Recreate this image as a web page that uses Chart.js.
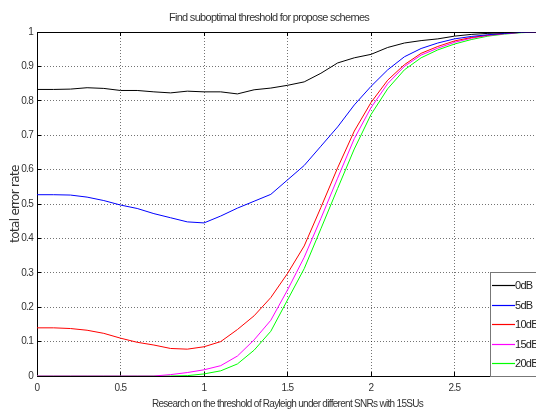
<!DOCTYPE html>
<html>
<head>
<meta charset="utf-8">
<script src="https://cdn.jsdelivr.net/npm/chart.js@4.4.1/dist/chart.umd.min.js"></script>
<style>
  html, body { margin: 0; padding: 0; background: #fff; overflow: hidden; }
  #wrap { width: 540px; height: 412px; }
</style>
</head>
<body>
<div id="wrap"><canvas id="chart" width="540" height="412"></canvas></div>
<script>
// threshold values (x axis)
const thresholds = [0, 0.1, 0.2, 0.3, 0.4, 0.5, 0.6, 0.7, 0.8, 0.9, 1.0,
  1.1, 1.2, 1.3, 1.4, 1.5, 1.6, 1.7, 1.8, 1.9, 2.0,
  2.1, 2.2, 2.3, 2.4, 2.5, 2.6, 2.7, 2.8, 2.9, 3.0];

const seriesNames = ["0dB", "5dB", "10dB", "15dB", "20dB"];
const seriesColors = ["#000000", "#0000ff", "#ff0000", "#ff00ff", "#00ff00"];

// total error rate per SNR
const err0dB = [0.833, 0.833, 0.834, 0.838, 0.836, 0.830, 0.830, 0.826, 0.823, 0.828, 0.826,
  0.826, 0.820, 0.832, 0.837, 0.845, 0.855, 0.880, 0.910, 0.925, 0.935,
  0.955, 0.968, 0.975, 0.980, 0.988, 0.993, 0.996, 0.998, 1.000, 1.000];
const err5dB = [0.527, 0.527, 0.526, 0.520, 0.510, 0.497, 0.487, 0.472, 0.460, 0.448, 0.445,
  0.465, 0.488, 0.508, 0.528, 0.570, 0.612, 0.668, 0.724, 0.788, 0.842,
  0.890, 0.928, 0.952, 0.968, 0.980, 0.987, 0.992, 0.996, 0.999, 1.000];
const err10dB = [0.140, 0.140, 0.138, 0.133, 0.124, 0.110, 0.098, 0.090, 0.080, 0.078, 0.085,
  0.100, 0.135, 0.175, 0.228, 0.298, 0.378, 0.490, 0.605, 0.712, 0.795,
  0.860, 0.905, 0.938, 0.958, 0.974, 0.984, 0.991, 0.996, 0.999, 1.000];
const err15dB = [0, 0, 0, 0, 0, 0, 0, 0, 0.004, 0.010, 0.018,
  0.030, 0.058, 0.105, 0.162, 0.250, 0.345, 0.458, 0.575, 0.690, 0.780,
  0.850, 0.900, 0.933, 0.953, 0.970, 0.982, 0.990, 0.995, 0.999, 1.000];
const err20dB = [0, 0, 0, 0, 0, 0, 0, 0, 0, 0.001, 0.006,
  0.015, 0.035, 0.075, 0.130, 0.221, 0.312, 0.428, 0.545, 0.660, 0.760,
  0.835, 0.890, 0.925, 0.948, 0.965, 0.978, 0.988, 0.994, 0.998, 1.000];

const xTicks = [0, 0.5, 1, 1.5, 2, 2.5];
const yTicks = [0, 0.1, 0.2, 0.3, 0.4, 0.5, 0.6, 0.7, 0.8, 0.9, 1];

const sans = "'Liberation Sans', Arial, sans-serif";
const allSeries = [err0dB, err5dB, err10dB, err15dB, err20dB];

const datasets = allSeries.map((vals, i) => ({
  label: seriesNames[i],
  data: vals.map((v, k) => ({ x: thresholds[k], y: v })),
  borderColor: seriesColors[i],
  backgroundColor: seriesColors[i],
  borderWidth: 1,
  pointRadius: 0,
  tension: 0,
  fill: false
}));

// squeeze the text a bit, the original figure uses a very narrow font
const tightText = {
  id: "tightText",
  beforeDraw(chart) {
    chart.ctx.letterSpacing = "-0.7px";
  }
};

// matlab style legend box in the lower right corner
const boxLegend = {
  id: "boxLegend",
  afterDraw(chart) {
    const ctx = chart.ctx;
    const left = 490, top = 272, w = 60, h = chart.chartArea.bottom - 272;
    ctx.save();
    ctx.fillStyle = "#fff";
    ctx.fillRect(left, top, w, h);
    ctx.strokeStyle = "#777";
    ctx.lineWidth = 1;
    ctx.strokeRect(left + 0.5, top + 0.5, w, h);
    ctx.font = "11px " + sans;
    ctx.textBaseline = "middle";
    ctx.textAlign = "left";
    chart.data.datasets.forEach((ds, i) => {
      const y = Math.round(285 + i * 19.5) + 0.5;
      ctx.strokeStyle = ds.borderColor;
      ctx.lineWidth = 1.2;
      ctx.beginPath();
      ctx.moveTo(492, y);
      ctx.lineTo(515, y);
      ctx.stroke();
      ctx.fillStyle = "#222";
      ctx.fillText(ds.label, 515, y);
    });
    ctx.restore();
  }
};

const gridStyle = {
  color: "rgba(0,0,0,0.55)",
  drawTicks: true,
  tickLength: -4,
  tickColor: "#000",
  tickBorderDash: [],
  tickBorderDashOffset: 0
};
const axisBorder = { display: true, color: "#000", width: 1, dash: [1, 2] };

new Chart(document.getElementById("chart"), {
  type: "line",
  data: { datasets: datasets },
  options: {
    responsive: false,
    animation: false,
    layout: { padding: { left: 0, right: 2, top: 0, bottom: 0 } },
    plugins: {
      legend: { display: false },
      tooltip: { enabled: false },
      title: {
        display: true,
        text: "Find suboptimal threshold for propose schemes",
        color: "#333",
        font: { family: sans, size: 11, weight: "normal" },
        padding: { top: 11, bottom: 7.8 }
      }
    },
    scales: {
      x: {
        type: "linear",
        min: 0,
        max: 3,
        grid: gridStyle,
        border: axisBorder,
        afterBuildTicks(scale) { scale.ticks = xTicks.map(v => ({ value: v })); },
        afterFit(scale) { scale.height = 36; },
        ticks: { color: "#333", font: { family: sans, size: 10 }, padding: 10, callback: v => String(v) },
        title: {
          display: true,
          text: "Research on the threshold of Rayleigh under different SNRs with 15SUs",
          color: "#333",
          font: { family: sans, size: 10 },
          padding: { top: 0, bottom: 2 }
        }
      },
      xTop: {
        type: "linear",
        position: "top",
        min: 0,
        max: 3,
        grid: { drawOnChartArea: false, drawTicks: true, tickLength: -4, tickColor: "#000", tickBorderDash: [] },
        border: { display: true, color: "#000", width: 1 },
        afterBuildTicks(scale) { scale.ticks = xTicks.map(v => ({ value: v })); },
        ticks: { display: false },
        afterFit(scale) { scale.height = 0; }
      },
      y: {
        min: 0,
        max: 1,
        grid: gridStyle,
        border: axisBorder,
        afterBuildTicks(scale) { scale.ticks = yTicks.map(v => ({ value: v })); },
        afterFit(scale) { scale.width = 37; },
        ticks: { color: "#333", font: { family: sans, size: 10 }, padding: 8, callback: v => String(v) },
        title: {
          display: true,
          text: "total error rate",
          color: "#333",
          font: { family: "'DejaVu Sans', sans-serif", size: 12 },
          padding: { top: 9, bottom: 0 }
        }
      }
    }
  },
  plugins: [tightText, boxLegend]
});
</script>
</body>
</html>
